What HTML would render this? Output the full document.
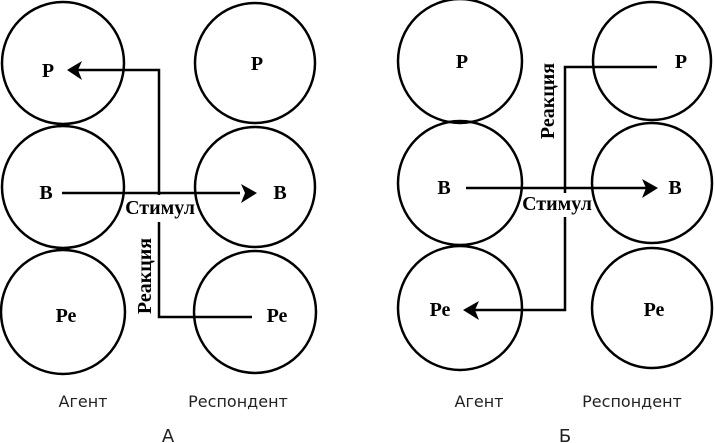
<!DOCTYPE html>
<html><head><meta charset="utf-8"><style>
html,body{margin:0;padding:0;background:#fff;}
svg{display:block}
</style></head><body>
<svg width="715" height="443" viewBox="0 0 715 443" xmlns="http://www.w3.org/2000/svg">
<g fill="none" stroke="#000" stroke-width="2.5">
<circle cx="63" cy="63" r="61"/><circle cx="63" cy="187" r="61"/><circle cx="63" cy="312" r="62"/>
<circle cx="255" cy="63" r="60"/><circle cx="255" cy="187" r="60"/><circle cx="255" cy="312" r="61"/>
<circle cx="460" cy="61" r="62"/><circle cx="460" cy="183" r="62"/><circle cx="460" cy="308" r="62"/>
<circle cx="652" cy="61" r="59"/><circle cx="652" cy="183" r="60"/><circle cx="652" cy="308" r="60"/>
<polyline points="78,70 159,70 159,195"/>
<line x1="62" y1="193" x2="240" y2="193"/>
<polyline points="159,222 159,317 252,317"/>
<polyline points="657,67 565,67 565,193"/>
<line x1="466" y1="188" x2="650" y2="188"/>
<polyline points="565,217 565,310 474,310"/>
</g>
<g fill="#000">
<path d="M67,70 L82,61 L78,70 L82,80 Z"/>
<path d="M257,193 L241,184 L245,193 L241,203 Z"/>
<path d="M658,188 L642,179 L646,188 L642,198 Z"/>
<path d="M463,310 L479,301 L475,310 L479,320 Z"/>
</g>
<g font-family="Liberation Serif, serif" font-weight="bold" font-size="20" text-anchor="middle" fill="#000">
<text x="48" y="77">Р</text><text x="46" y="199">В</text><text x="66" y="322">Ре</text>
<text x="257" y="70">Р</text><text x="280" y="199">В</text><text x="277" y="322">Ре</text>
<text x="160" y="214">Стимул</text>
<text transform="translate(151,276) rotate(-90)">Реакция</text>
<text x="462" y="68">Р</text><text x="444" y="194">В</text><text x="440" y="316">Ре</text>
<text x="681" y="68">Р</text><text x="675" y="194">В</text><text x="654" y="316">Ре</text>
<text x="557" y="210">Стимул</text>
<text transform="translate(554,101) rotate(-90)">Реакция</text>
</g>
<g font-family="DejaVu Sans, Liberation Sans, sans-serif" font-size="16" text-anchor="middle" fill="#222">
<text x="83" y="407">Агент</text><text x="238" y="407">Респондент</text>
<text x="479" y="407">Агент</text><text x="632" y="407">Респондент</text>
<text x="168" y="442" font-size="18">А</text><text x="565" y="442" font-size="18">Б</text>
</g>
</svg>
</body></html>
